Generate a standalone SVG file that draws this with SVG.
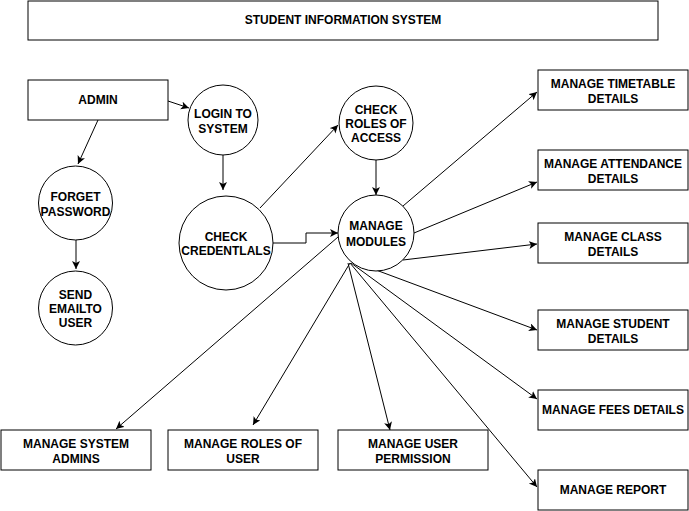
<svg xmlns="http://www.w3.org/2000/svg" width="689" height="511" viewBox="0 0 689 511">
<defs>
<marker id="arr" markerWidth="10" markerHeight="10" refX="8" refY="4" orient="auto" markerUnits="userSpaceOnUse">
<path d="M0,0 L8,4 L0,8 L2,4 Z" fill="#000"/>
</marker>
<style>
rect, circle { fill: #fff; stroke: #000; stroke-width: 1; }
text { font-family: "Liberation Sans", Arial, sans-serif; font-size: 12px; font-weight: bold; fill: #000; text-anchor: middle; }
.c { fill: none; stroke: #000; stroke-width: 1; marker-end: url(#arr); }
</style>
</defs>
<rect x="0" y="0" width="689" height="511" style="fill:#fff;stroke:none"/>
<g id="connectors">
<line class="c" x1="168" y1="101" x2="189" y2="108"/>
<line class="c" x1="98" y1="120" x2="78" y2="164"/>
<line class="c" x1="223" y1="155" x2="223" y2="190"/>
<line class="c" x1="76" y1="240" x2="76" y2="269"/>
<line class="c" x1="260" y1="208" x2="338" y2="125"/>
<polyline class="c" points="273,243 306,243 306,233 338,233"/>
<line class="c" x1="376" y1="160" x2="376" y2="195"/>
<line class="c" x1="403" y1="206" x2="537" y2="92"/>
<line class="c" x1="414" y1="233" x2="537" y2="182"/>
<line class="c" x1="403" y1="260" x2="537" y2="244"/>
<line class="c" x1="376" y1="270" x2="537" y2="330"/>
<line class="c" x1="351" y1="263" x2="537" y2="399"/>
<line class="c" x1="350" y1="263" x2="537" y2="487"/>
<line class="c" x1="348" y1="263" x2="390" y2="430"/>
<line class="c" x1="350" y1="263" x2="253" y2="425"/>
<line class="c" x1="338" y1="237" x2="116" y2="429"/>
</g>
<g id="title"><rect x="28" y="1" width="630" height="39"/><text x="343" y="24">STUDENT INFORMATION SYSTEM</text></g>
<g id="admin"><rect x="28" y="80" width="140" height="40"/><text x="98" y="104">ADMIN</text></g>
<g id="login"><circle cx="223" cy="120" r="35"/><text x="223" y="118">LOGIN TO</text><text x="223" y="133">SYSTEM</text></g>
<g id="forget"><circle cx="75.5" cy="203" r="37"/><text x="75.5" y="201">FORGET</text><text x="75.5" y="216">PASSWORD</text></g>
<g id="send"><circle cx="75.5" cy="308" r="37"/><text x="75.5" y="299">SEND</text><text x="75.5" y="313">EMAILTO</text><text x="75.5" y="327">USER</text></g>
<g id="cred"><circle cx="226" cy="243" r="47"/><text x="226" y="241">CHECK</text><text x="226" y="255">CREDENTLALS</text></g>
<g id="roles"><circle cx="376" cy="123" r="37"/><text x="376" y="114">CHECK</text><text x="376" y="128">ROLES OF</text><text x="376" y="142">ACCESS</text></g>
<g id="modules"><circle cx="376" cy="233" r="38"/><text x="376" y="230">MANAGE</text><text x="376" y="246">MODULES</text></g>
<g id="timetable"><rect x="538" y="70" width="150" height="40"/><text x="613" y="88">MANAGE TIMETABLE</text><text x="613" y="103">DETAILS</text></g>
<g id="attendance"><rect x="538" y="150" width="150" height="40"/><text x="613" y="168">MANAGE ATTENDANCE</text><text x="613" y="183">DETAILS</text></g>
<g id="class"><rect x="538" y="223" width="150" height="40"/><text x="613" y="241">MANAGE CLASS</text><text x="613" y="256">DETAILS</text></g>
<g id="student"><rect x="538" y="310" width="150" height="40"/><text x="613" y="328">MANAGE STUDENT</text><text x="613" y="343">DETAILS</text></g>
<g id="fees"><rect x="538" y="390" width="150" height="40"/><text x="613" y="414">MANAGE FEES DETAILS</text></g>
<g id="report"><rect x="538" y="470" width="150" height="40"/><text x="613" y="494">MANAGE REPORT</text></g>
<g id="sysadmins"><rect x="1" y="430" width="150" height="40"/><text x="76" y="448">MANAGE SYSTEM</text><text x="76" y="463">ADMINS</text></g>
<g id="rolesuser"><rect x="168" y="430" width="150" height="40"/><text x="243" y="448">MANAGE ROLES OF</text><text x="243" y="463">USER</text></g>
<g id="perm"><rect x="338" y="430" width="150" height="40"/><text x="413" y="448">MANAGE USER</text><text x="413" y="463">PERMISSION</text></g>
</svg>
